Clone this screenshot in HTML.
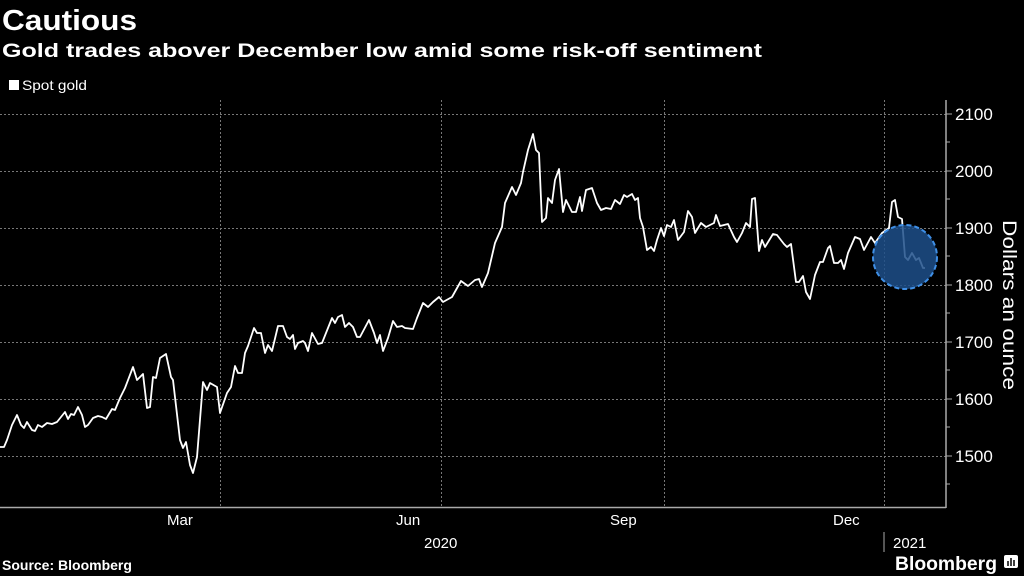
<!DOCTYPE html>
<html><head><meta charset="utf-8"><style>
html,body{margin:0;padding:0;background:#000;width:1024px;height:576px;overflow:hidden}
svg{display:block;font-family:"Liberation Sans",sans-serif}
</style></head><body>
<svg width="1024" height="576" viewBox="0 0 1024 576">
<rect width="1024" height="576" fill="#000"/>
<text x="2" y="30" fill="#fff" font-size="29" font-weight="bold" textLength="135" lengthAdjust="spacingAndGlyphs">Cautious</text>
<text x="2" y="57" fill="#fff" font-size="19" font-weight="bold" textLength="760" lengthAdjust="spacingAndGlyphs">Gold trades abover December low amid some risk-off sentiment</text>
<rect x="9" y="80" width="10" height="10" fill="#fff"/>
<text x="22" y="90" fill="#fff" font-size="14" textLength="65" lengthAdjust="spacingAndGlyphs">Spot gold</text>
<g stroke="#777" stroke-width="1" stroke-dasharray="2,2">
<line x1="0" x2="946" y1="114.5" y2="114.5"/><line x1="0" x2="946" y1="171.5" y2="171.5"/>
<line x1="0" x2="946" y1="228.5" y2="228.5"/><line x1="0" x2="946" y1="285.5" y2="285.5"/>
<line x1="0" x2="946" y1="342.5" y2="342.5"/><line x1="0" x2="946" y1="399.5" y2="399.5"/>
<line x1="0" x2="946" y1="456.5" y2="456.5"/>
<line x1="220.5" x2="220.5" y1="100" y2="507"/><line x1="441.5" x2="441.5" y1="100" y2="507"/>
<line x1="664.5" x2="664.5" y1="100" y2="507"/><line x1="884.5" x2="884.5" y1="100" y2="507"/>
</g>
<g stroke="#aaa" stroke-width="1.5" fill="none">
<line x1="946" x2="946" y1="100" y2="508"/><line x1="0" x2="946" y1="507.5" y2="507.5"/>
</g>
<g stroke="#aaa" stroke-width="1">
<line x1="946" x2="952" y1="114" y2="114"/><line x1="946" x2="952" y1="171" y2="171"/>
<line x1="946" x2="952" y1="228" y2="228"/><line x1="946" x2="952" y1="285" y2="285"/>
<line x1="946" x2="952" y1="342" y2="342"/><line x1="946" x2="952" y1="399" y2="399"/>
<line x1="946" x2="952" y1="456" y2="456"/>
<line x1="946" x2="950" y1="142" y2="142"/><line x1="946" x2="950" y1="199" y2="199"/>
<line x1="946" x2="950" y1="256" y2="256"/><line x1="946" x2="950" y1="313" y2="313"/>
<line x1="946" x2="950" y1="370" y2="370"/><line x1="946" x2="950" y1="427" y2="427"/>
<line x1="946" x2="950" y1="484" y2="484"/>
<line x1="884" x2="884" y1="532" y2="552"/>
</g>
<g fill="#fff" font-size="17">
<text x="955" y="120">2100</text><text x="955" y="177">2000</text><text x="955" y="234">1900</text>
<text x="955" y="291">1800</text><text x="955" y="348">1700</text><text x="955" y="405">1600</text>
<text x="955" y="462">1500</text>
</g>
<text transform="translate(1003,220) rotate(90)" fill="#fff" font-size="19" textLength="170" lengthAdjust="spacingAndGlyphs">Dollars an ounce</text>
<g fill="#fff" font-size="15">
<text x="167" y="525">Mar</text><text x="396" y="525">Jun</text><text x="610" y="525">Sep</text><text x="833" y="525">Dec</text>
<text x="424" y="548">2020</text><text x="893" y="548">2021</text>
</g>
<polyline fill="none" stroke="#fff" stroke-width="1.8" stroke-linejoin="round" points="0,447 4,447 7,440 12,425 17,415 21,425 24,428 27,422 32,430 35,431 38,425 42,427 47,423 52,424 57,422 65,412 68,419 71,414 74,415 78,407 82,415 85,427 88,425 93,418 98,416 102,417 106,419 112,409 115,410 120,398 125,388 133,367 137,380 143,374 147,408 150,407 153,377 156,378 160,358 166,354 171,377 173,380 180,440 183,448 186,442 190,465 193,473 197,457 203,382 207,390 210,383 217,387 220,413 227,393 231,387 235,366 238,373 242,373 245,353 248,346 254,328 257,333 261,333 265,353 268,345 272,351 278,326 283,326 287,337 290,339 293,335 295,349 298,343 303,341 305,343 308,351 312,333 318,344 322,343 332,318 335,323 338,317 342,315 345,327 349,323 353,327 357,337 360,337 369,320 374,333 377,343 380,335 383,351 388,338 393,321 397,327 402,326 405,328 413,329 417,318 423,303 428,307 433,302 439,297 443,302 452,297 461,281 468,286 475,280 479,279 482,287 488,273 495,243 502,227 505,203 512,187 516,195 521,183 523,172 528,150 533,134 536,150 539,153 542,222 546,218 548,198 552,203 555,180 559,169 563,212 566,200 572,212 576,212 580,197 582,211 586,190 592,188 597,203 601,210 606,208 611,209 615,200 620,204 624,195 627,197 632,194 635,200 638,198 640,218 643,227 647,250 651,247 654,251 657,240 661,228 664,236 667,225 671,227 674,220 678,240 684,232 688,211 692,217 695,233 701,223 706,227 714,223 716,215 720,226 728,224 734,237 737,242 742,233 746,223 750,227 752,199 755,198 759,251 762,240 765,247 773,234 777,235 784,244 787,247 791,244 796,282 799,282 803,276 806,292 810,299 815,275 820,262 823,262 828,248 830,246 834,263 838,263 841,260 844,269 848,253 855,237 860,239 864,250 871,237 875,243 882,233 889,228 892,202 895,200 898,217 902,219 905,257 908,260 912,253 916,260 919,258 923,268 925,268"/>
<circle cx="905" cy="257" r="32" fill="#1d4f8a" fill-opacity="0.85" stroke="#3f8fe6" stroke-width="2" stroke-dasharray="5,3"/>
<text x="2" y="570" fill="#fff" font-size="14" font-weight="bold">Source: Bloomberg</text>
<text x="895" y="570" fill="#fff" font-size="19" font-weight="bold" textLength="102" lengthAdjust="spacingAndGlyphs">Bloomberg</text>
<rect x="1004" y="555" width="14" height="13" rx="2" fill="#fff"/>
<g stroke="#000" stroke-width="1.5"><line x1="1008" x2="1008" y1="561" y2="566"/><line x1="1011" x2="1011" y1="558" y2="566"/><line x1="1014" x2="1014" y1="560" y2="566"/></g>
</svg>
</body></html>
